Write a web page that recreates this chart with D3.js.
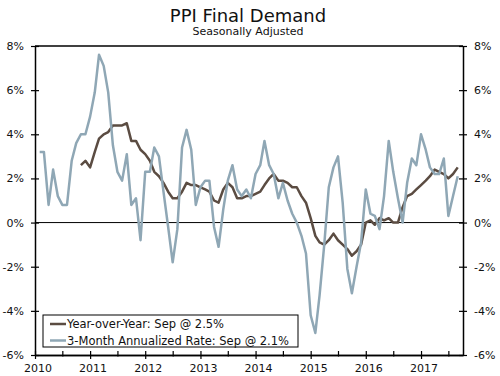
<!DOCTYPE html>
<html>
<head>
<meta charset="utf-8">
<script src="https://cdn.jsdelivr.net/npm/d3@7"></script>
<style>
  body { margin: 0; background: #fff; }
  svg { display: block; font-family: "DejaVu Sans", Verdana, sans-serif; }
</style>
</head>
<body>
<div id="chart"></div>
<script>
// PPI Final Demand - YoY and 3-month annualized rate

// Year-over-Year, monthly from Nov 2010
const yoyStart = new Date(2010, 10, 1);
const yoyValues = [
  2.6, 2.8, 2.5, 3.2, 3.8, 4.0, 4.1, 4.4, 4.4, 4.4,
  4.5, 3.7, 3.7, 3.3, 3.1, 2.8, 2.3, 2.1, 1.8, 1.4,
  1.1, 1.1, 1.4, 1.8, 1.7, 1.7, 1.6, 1.5, 1.4, 1.0,
  0.9, 1.5, 1.8, 1.6, 1.1, 1.1, 1.2, 1.2, 1.3, 1.4,
  1.7, 2.0, 2.2, 1.9, 1.9, 1.8, 1.6, 1.6, 1.2, 0.9,
  0.2, -0.6, -0.9, -1.0, -0.8, -0.5, -0.8, -1.0, -1.2, -1.5,
  -1.3, -1.0, 0.0, 0.1, -0.1, 0.2, 0.1, 0.2, 0.0, 0.0,
  0.7, 1.2, 1.3, 1.5, 1.7, 1.9, 2.1, 2.4, 2.3, 2.2,
  2.0, 2.2, 2.5
];

// 3-Month annualized rate, monthly from Feb 2010
const annStart = new Date(2010, 1, 1);
const annValues = [
  3.2, 3.2, 0.8, 2.4, 1.2, 0.8, 0.8, 2.8, 3.6, 4.0,
  4.0, 4.8, 5.9, 7.6, 7.1, 5.9, 3.5, 2.3, 1.9, 3.1,
  0.8, 1.1, -0.8, 2.3, 2.3, 3.4, 3.0, 1.4, -0.2, -1.8,
  -0.3, 3.4, 4.2, 3.3, 0.8, 1.6, 1.9, 1.9, -0.2, -1.1,
  0.6, 1.9, 2.6, 1.5, 1.2, 1.5, 1.1, 2.2, 2.6, 3.7,
  2.6, 2.2, 1.1, 1.8, 1.0, 0.4, 0.0, -0.6, -1.4, -4.2,
  -5.0, -3.3, -1.0, 1.6, 2.5, 3.0, 0.9, -2.1, -3.2, -2.0,
  -0.9, 1.5, 0.4, 0.3, -0.3, 1.2, 3.7, 2.3, 1.1, 0.0,
  1.8, 2.9, 2.6, 4.0, 3.3, 2.5, 2.2, 2.2, 2.9, 0.3,
  1.2, 2.1
];

const yTicks = [-6, -4, -2, 0, 2, 4, 6, 8];
const xYears = [2010, 2011, 2012, 2013, 2014, 2015, 2016, 2017];
const seriesNames = ["Year-over-Year: Sep @ 2.5%", "3-Month Annualized Rate: Sep @ 2.1%"];
const seriesColors = ["#5b4c42", "#8fa7b5"];

const W = 500, H = 376;
const margin = {top: 46, right: 37, bottom: 21, left: 35};

const svg = d3.select("#chart").append("svg")
  .attr("width", W)
  .attr("height", H);

const x = d3.scaleTime()
  .domain([new Date(2010, 0, 1), new Date(2017, 9, 6)])
  .range([margin.left, W - margin.right]);

const y = d3.scaleLinear()
  .domain([-6, 8])
  .range([H - margin.bottom, margin.top]);

function toSeries(start, values) {
  return values.map((v, i) => ({date: d3.timeMonth.offset(start, i), value: v}));
}
const yoy = toSeries(yoyStart, yoyValues);
const ann = toSeries(annStart, annValues);

// Title
svg.append("text")
  .attr("x", 248).attr("y", 22)
  .attr("text-anchor", "middle")
  .style("font-size", "18px")
  .style("fill", "#111")
  .text("PPI Final Demand");

svg.append("text")
  .attr("x", 248).attr("y", 35)
  .attr("text-anchor", "middle")
  .style("font-size", "11px")
  .style("fill", "#111")
  .text("Seasonally Adjusted");

// Top border
svg.append("line")
  .attr("x1", margin.left).attr("x2", W - margin.right)
  .attr("y1", y(8)).attr("y2", y(8))
  .style("stroke", "#000").style("stroke-width", 1.5);

// Zero line
svg.append("line")
  .attr("x1", margin.left).attr("x2", W - margin.right)
  .attr("y1", y(0)).attr("y2", y(0))
  .style("stroke", "#000").style("stroke-width", 1);

// Left axis
const yLeft = svg.append("g")
  .attr("transform", `translate(${margin.left},0)`)
  .call(d3.axisLeft(y).tickValues(yTicks).tickFormat(d => d + "%").tickSizeOuter(0));
yLeft.selectAll(".tick line").attr("x1", -4).attr("x2", 4);
yLeft.selectAll(".tick text").attr("x", -11);

// Right axis
const yRight = svg.append("g")
  .attr("transform", `translate(${W - margin.right},0)`)
  .call(d3.axisRight(y).tickValues(yTicks).tickFormat(d => d + "%").tickSizeOuter(0));
yRight.selectAll(".tick line").attr("x1", -4).attr("x2", 4);
yRight.selectAll(".tick text").attr("x", 11);

// Bottom axis: minor half-year ticks, then year ticks with labels
const minorDates = xYears.map(yr => new Date(yr, 6, 1));
const xMinor = svg.append("g")
  .attr("transform", `translate(0,${H - margin.bottom})`)
  .call(d3.axisBottom(x).tickValues(minorDates).tickFormat("").tickSizeOuter(0));
xMinor.selectAll(".tick line").attr("y1", -4).attr("y2", 1.5);

const xMajor = svg.append("g")
  .attr("transform", `translate(0,${H - margin.bottom})`)
  .call(d3.axisBottom(x).tickValues(xYears.map(yr => new Date(yr, 0, 1)))
    .tickFormat(d3.timeFormat("%Y")).tickSizeOuter(0));
xMajor.selectAll(".tick line").attr("y1", -4).attr("y2", 4);
xMajor.selectAll(".tick text").attr("x", 2.5).attr("y", 9);

svg.selectAll(".domain").style("stroke", "#000").style("stroke-width", 1.5);
svg.selectAll(".tick line").style("stroke", "#000").style("stroke-width", 1.2);
svg.selectAll(".tick text").style("font-size", "11px").style("fill", "#111")
  .style("font-family", "'DejaVu Sans', Verdana, sans-serif");

// Lines
const line = d3.line()
  .x(d => x(d.date))
  .y(d => y(d.value));

svg.append("path")
  .datum(yoy)
  .attr("d", line)
  .style("fill", "none")
  .style("stroke", seriesColors[0])
  .style("stroke-width", 2.5)
  .style("stroke-linejoin", "round");

svg.append("path")
  .datum(ann)
  .attr("d", line)
  .style("fill", "none")
  .style("stroke", seriesColors[1])
  .style("stroke-width", 2.5)
  .style("stroke-linejoin", "round");

// Legend
const legend = svg.append("g").attr("transform", "translate(43,315)");
legend.append("rect")
  .attr("x", 0).attr("y", 0)
  .attr("width", 255).attr("height", 32)
  .style("fill", "#fff")
  .style("stroke", "#000")
  .style("stroke-width", 1);

seriesNames.forEach((name, i) => {
  const row = legend.append("g").attr("transform", `translate(0,${9 + i * 16.5})`);
  row.append("line")
    .attr("x1", 7).attr("x2", 23)
    .attr("y1", 0).attr("y2", 0)
    .style("stroke", seriesColors[i])
    .style("stroke-width", 2.5);
  row.append("text")
    .attr("x", 24).attr("y", 4)
    .style("font-size", "11.5px")
    .style("fill", "#111")
    .text(name);
});
</script>
</body>
</html>
